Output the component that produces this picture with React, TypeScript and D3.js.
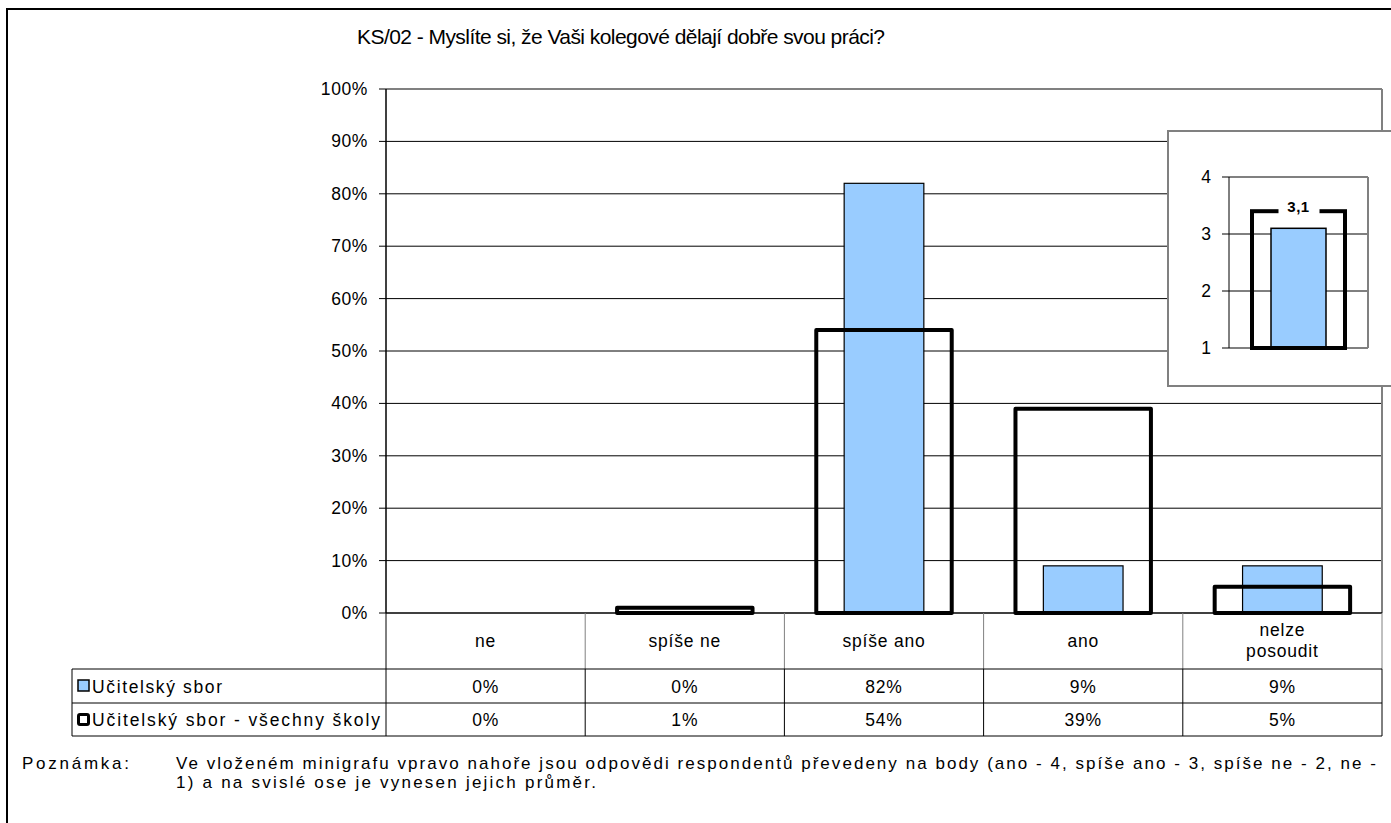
import * as d3 from 'd3'

const categories = ['ne', 'spíše ne', 'spíše ano', 'ano', 'nelze posoudit']
const schoolValues = [0, 0, 0.82, 0.09, 0.09]
const allSchoolsValues = [0, 0.01, 0.54, 0.39, 0.05]
const seriesNames = ['Učitelský sbor', 'Učitelský sbor - všechny školy']
const yTicks = [0, 0.1, 0.2, 0.3, 0.4, 0.5, 0.6, 0.7, 0.8, 0.9, 1]
const miniTicks = [1, 2, 3, 4]
const miniSchool = 3.1
const miniAllSchools = 3.4
const miniLabel = '3,1'

const TITLE = 'KS/02 - Myslíte si, že Vaši kolegové dělají dobře svou práci?'
const NOTE_1 = 'Ve vloženém minigrafu vpravo nahoře jsou odpovědi respondentů převedeny na body (ano - 4, spíše ano - 3, spíše ne - 2, ne -'
const NOTE_2 = '1) a na svislé ose je vynesen jejich průměr.'

const FONT = '"Liberation Sans", Arial, sans-serif'
const BLUE = '#99ccff'
const GRAY = '#808080'

export default function App() {
  const W = 1391, H = 823
  const L = 386, R = 1382, T = 89, B = 613
  const x = d3.scaleBand<string>().domain(categories).range([L, R])
  const y = d3.scaleLinear().domain([0, 1]).range([B, T])
  const bw = x.bandwidth()
  const pct = (v: number) => `${Math.round(v * 100)}%`
  const rows = [schoolValues, allSchoolsValues]
  const rowTop = [669, 703], rowBot = [703, 736]
  const rowLabelLen = [130, 288]
  const tabL = 72
  const FS = 17.5 // table text

  // mini chart
  const mx0 = 1229, mx1 = 1368
  const my = d3.scaleLinear().domain([1, 4]).range([348, 177])
  const mc = (mx0 + mx1) / 2

  return (
    <div style={{ position: 'absolute', left: 0, top: 0 }}>
      <svg width={W} height={H} style={{ display: 'block', fontFamily: FONT }}>
        <rect x={0} y={0} width={W} height={H} fill="#fff" />
        <rect x={7} y={9} width={W} height={H} fill="none" stroke="#000" strokeWidth={2} />
        <text x={621} y={44} textAnchor="middle" fontSize={21} textLength={528} lengthAdjust="spacing">{TITLE}</text>

        {/* grid */}
        {yTicks.map(t => (
          <g key={t}>
            {t > 0 && t < 1 && <line x1={L} x2={R} y1={y(t)} y2={y(t)} stroke="#000" strokeWidth={1} />}
            <line x1={L - 7} x2={L} y1={y(t)} y2={y(t)} stroke="#000" />
            <text x={L - 18} y={y(t) + 6} textAnchor="end" fontSize={17.5} letterSpacing={0.6}>{pct(t)}</text>
          </g>
        ))}
        <line x1={L} x2={R} y1={T} y2={T} stroke={GRAY} strokeWidth={2} />
        <line x1={R} x2={R} y1={T} y2={B} stroke={GRAY} strokeWidth={2} />

        {/* bars */}
        {categories.map((c, i) => schoolValues[i] > 0 && (
          <rect key={c} x={x(c)! + bw * 0.3} width={bw * 0.4} y={y(schoolValues[i])}
            height={B - y(schoolValues[i])} fill={BLUE} stroke="#000" strokeWidth={1.2} />
        ))}
        <line x1={L} x2={R} y1={B} y2={B} stroke="#000" strokeWidth={1.5} />
        <line x1={L} x2={L} y1={T} y2={B} stroke="#000" strokeWidth={1.5} />
        {categories.map((c, i) => allSchoolsValues[i] > 0 && (
          <rect key={c} x={x(c)! + bw * 0.16} width={bw * 0.68} y={y(allSchoolsValues[i])}
            height={B - y(allSchoolsValues[i])} fill="none" stroke="#000" strokeWidth={4} strokeLinejoin="round" />
        ))}

        {/* data table */}
        {categories.map(c => {
          const cx = x(c)! + bw / 2
          const parts = c === 'nelze posoudit' ? ['nelze', 'posoudit'] : [c]
          return (
            <g key={c}>
              {parts.length === 1
                ? <text x={cx} y={647} textAnchor="middle" fontSize={FS} letterSpacing={0.8}>{c}</text>
                : parts.map((p, k) => <text key={p} x={cx} y={636 + k * 21} textAnchor="middle" fontSize={FS} letterSpacing={0.8}>{p}</text>)}
            </g>
          )
        })}
        {[...categories.map(c => x(c)!), R].map((px, i) => (
          <g key={i}>
            <line x1={px} x2={px} y1={B} y2={669} stroke={i === 0 ? '#000' : GRAY} strokeWidth={1} />
            <line x1={px} x2={px} y1={669} y2={736} stroke="#000" strokeWidth={1} />
          </g>
        ))}
        <line x1={tabL} x2={R} y1={669} y2={669} stroke="#000" />
        <line x1={tabL} x2={R} y1={703} y2={703} stroke="#000" />
        <line x1={tabL} x2={R} y1={736} y2={736} stroke="#000" />
        <line x1={tabL} x2={tabL} y1={669} y2={736} stroke="#000" />
        {rows.map((vals, r) => (
          <g key={r}>
            {r === 0
              ? <rect x={78} y={rowTop[r] + 11} width={11} height={11} fill={BLUE} stroke="#000" strokeWidth={1.5} />
              : <rect x={78.5} y={rowTop[r] + 11.5} width={10} height={10} fill="#fff" stroke="#000" strokeWidth={3} rx={1.5} />}
            <text x={92} y={(rowTop[r] + rowBot[r]) / 2 + 6.5} fontSize={FS} textLength={rowLabelLen[r]} lengthAdjust="spacing">{seriesNames[r]}</text>
            {categories.map((c, i) => (
              <text key={c} x={x(c)! + bw / 2} y={(rowTop[r] + rowBot[r]) / 2 + 6.5} textAnchor="middle" fontSize={FS} letterSpacing={0.8}>{pct(vals[i])}</text>
            ))}
          </g>
        ))}

        {/* inset mini chart */}
        <rect x={1168} y={131} width={260} height={255} fill="#fff" stroke={GRAY} strokeWidth={2} />
        {miniTicks.map(t => (
          <g key={t}>
            {t > 1 && t < 4 && <line x1={mx0} x2={mx1} y1={my(t)} y2={my(t)} stroke="#000" />}
            <line x1={mx0 - 7} x2={mx0} y1={my(t)} y2={my(t)} stroke="#000" />
            <text x={mx0 - 18} y={my(t) + 6} textAnchor="end" fontSize={17.5}>{t}</text>
          </g>
        ))}
        <line x1={mx0} x2={mx1} y1={my(4)} y2={my(4)} stroke={GRAY} strokeWidth={2} />
        <line x1={mx1} x2={mx1} y1={my(4)} y2={my(1)} stroke={GRAY} strokeWidth={2} />
        <line x1={mx0} x2={mx1} y1={my(1)} y2={my(1)} stroke={GRAY} strokeWidth={2} />
        <line x1={mx0} x2={mx0} y1={my(4)} y2={my(1)} stroke="#000" />
        <rect x={mc - 27.5} width={55} y={my(miniSchool)} height={my(1) - my(miniSchool)} fill={BLUE} stroke="#000" strokeWidth={1.5} />
        <rect x={mc - 46.5} width={93} y={my(miniAllSchools)} height={my(1) - my(miniAllSchools)} fill="none" stroke="#000" strokeWidth={4} />
        <rect x={mc - 20} y={my(miniAllSchools) - 10} width={41} height={18} fill="#fff" />
        <text x={mc} y={my(miniAllSchools) + 1} textAnchor="middle" fontSize={15} fontWeight="bold" letterSpacing={0.5}>{miniLabel}</text>

        {/* note */}
        <text x={22} y={769} fontSize={17} textLength={107} lengthAdjust="spacing">Poznámka:</text>
        <text x={176} y={769} fontSize={17} textLength={1200} lengthAdjust="spacing">{NOTE_1}</text>
        <text x={176} y={788} fontSize={17} textLength={420} lengthAdjust="spacing">{NOTE_2}</text>
      </svg>
    </div>
  )
}
